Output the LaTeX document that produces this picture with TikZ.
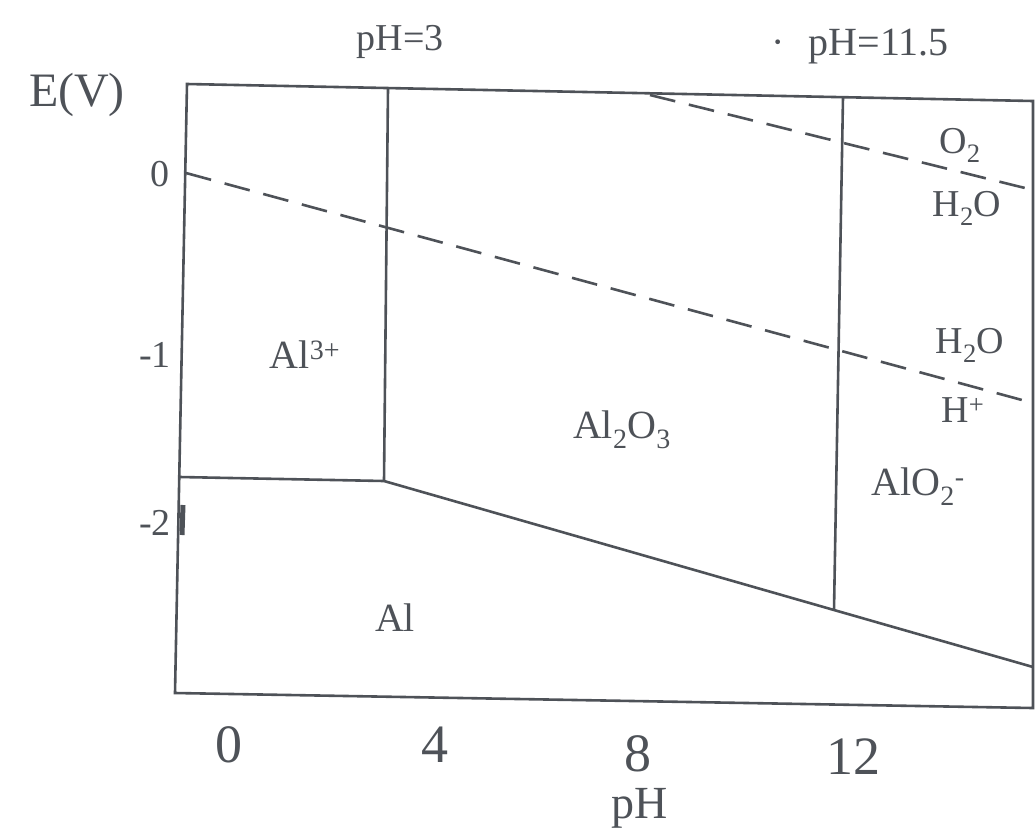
\documentclass[tikz,border=0pt]{standalone}
\usepackage{fontspec}
\setmainfont{Liberation Serif}
\definecolor{ink}{RGB}{78,82,88}

\begin{document}
\begin{tikzpicture}[x=1pt, y=-1pt, line width=2.6pt, draw=ink, text=ink,
    lbl/.style={inner sep=0pt, font=\fontsize{38}{44}\selectfont},
    big/.style={inner sep=0pt, font=\fontsize{40}{46}\selectfont},
    tick/.style={inner sep=0pt, font=\fontsize{54}{60}\selectfont},
    water/.style={dash pattern=on 26pt off 14pt}]
  \useasboundingbox (0,0) rectangle (1035,839);
  % frame corners
  \coordinate (tl) at (187,84);
  \coordinate (tr) at (1033,101);
  \coordinate (br) at (1033,708);
  \coordinate (bl) at (175,693);
  \draw (tl) -- (tr) -- (br) -- (bl) -- cycle;
  % phase boundaries
  \coordinate (p3top)  at (388,88);
  \coordinate (p3bot)  at (384,481);
  \coordinate (Alleft) at (180,477);
  \coordinate (p11top) at (843,97);
  \coordinate (p11bot) at (834,610);
  \coordinate (Alright) at (1033,667);
  \draw (p3top) -- (p3bot);
  \draw (p11top) -- (p11bot);
  \draw (Alleft) -- (p3bot) -- (p11bot) -- (Alright);
  % water lines
  \coordinate (Hleft)  at (186,173);
  \coordinate (Hright) at (1033,403);
  \coordinate (Oleft)  at (650,95);
  \coordinate (Oright) at (1033,190);
  \draw[water] (Hleft) -- (Hright);
  \draw[water] (Oleft) -- (Oright);
  \draw[line width=5pt] (183,505) -- (182,535);
  % axis labels
  \node[lbl, font=\fontsize{48}{54}\selectfont] (EV) at (77,95) {E(V)};
  \node[lbl] (y0) at (160,174) {0};
  \node[lbl] (y1) at (155,355) {-1};
  \node[lbl] (y2) at (155,523) {-2};
  \node[tick] (x0) at (229,745) {0};
  \node[tick] (x4) at (435,745) {4};
  \node[tick] (x8) at (638,754) {8};
  \node[tick] (x12) at (853,757) {12};
  \node[lbl, font=\fontsize{46}{52}\selectfont] (xlab) at (640,808) {pH};
  \node[lbl] (ph3) at (400,42) {pH=3};
  \node[lbl, anchor=west, font=\fontsize{40}{46}\selectfont] (ph11) at (770,47) {·\hspace{0.6em}pH=11.5};
  % species
  \node[big] (Al3) at (305,355) {Al\textsuperscript{3+}};
  \node[big] (Al2O3) at (622,430) {Al\textsubscript{2}O\textsubscript{3}};
  \node[big] (AlO2) at (918,487) {AlO\textsubscript{2}\textsuperscript{-}};
  \node[big] (Al) at (395,618) {Al};
  \node[lbl] (O2) at (960,145) {O\textsubscript{2}};
  \node[lbl] (H2Oa) at (967,208) {H\textsubscript{2}O};
  \node[lbl] (H2Ob) at (970,345) {H\textsubscript{2}O};
  \node[lbl] (Hp) at (963,410) {H\textsuperscript{+}};
\end{tikzpicture}
\end{document}
